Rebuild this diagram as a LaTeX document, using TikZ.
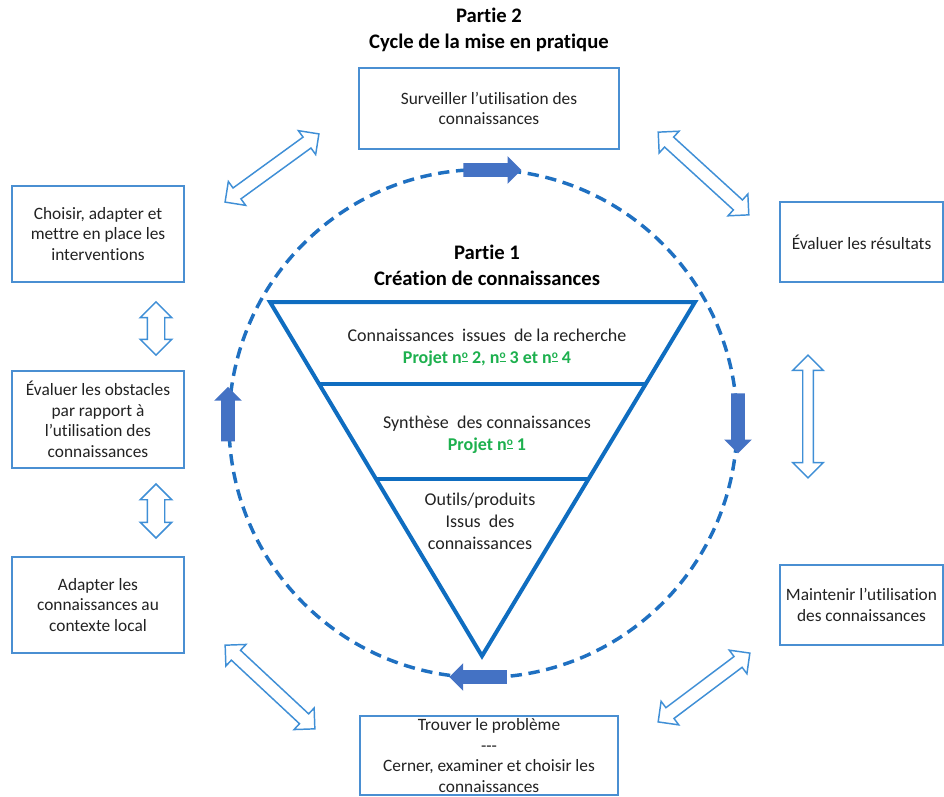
\documentclass[tikz,border=0pt]{standalone}
\usepackage{fontspec}
\setmainfont{Carlito}[Ligatures={NoCommon}]
\usetikzlibrary{shapes.arrows}
\definecolor{boxc}{HTML}{4A8FD2}
\definecolor{tric}{HTML}{0F6DC0}
\definecolor{circc}{HTML}{1F70C1}
\definecolor{fillc}{HTML}{4472C4}
\definecolor{holc}{HTML}{3F8FD6}
\definecolor{grn}{HTML}{1DB04E}
\definecolor{txt}{HTML}{222222}
\newcommand\nro{n\raisebox{.55ex}{\fontsize{8.5}{8.5}\selectfont\underline{o}}}
\begin{document}
\begin{tikzpicture}[x=0.75pt,y=-0.75pt,
  box/.style={draw=boxc, line width=1pt, fill=white, align=center, inner sep=0pt,
    text=txt, font=\fontsize{13}{15.4}\selectfont},
  title/.style={align=center, text=black, font=\fontsize{15.5}{19.5}\selectfont\bfseries},
  tritext/.style={align=center, text=txt, font=\fontsize{13.5}{16.5}\selectfont},
  hol/.style={shape=double arrow, draw=holc, line width=1.1pt, fill=white,
    inner xsep=0pt, inner ysep=4.5pt, double arrow head extend=6pt},
  holv/.style={hol, inner ysep=3.4pt, double arrow head extend=7.5pt},
  hols/.style={hol, inner ysep=6pt, double arrow head extend=5.25pt},
  full/.style={shape=single arrow, fill=fillc, draw=none, inner xsep=0pt, inner ysep=4.9pt,
    single arrow head extend=5.25pt},
  tri/.style={draw=tric, line width=3pt}
]
\useasboundingbox (0,0) rectangle (944,796);

% dashed cycle
\draw[circc, line width=2.6pt, dash pattern=on 8.5pt off 5pt] (483,423.5) circle[radius=254];

% filled direction arrows on the cycle
\node[full, minimum height=43.5pt] (fTop) at (489,170) {};
\node[full, minimum height=45pt, rotate=-90] (fRight) at (738,420) {};
\node[full, minimum height=43pt, rotate=180] (fBottom) at (481.5,677) {};
\node[full, minimum height=41pt, rotate=90] (fLeft) at (228,417.5) {};

% triangle
\draw[tri] (270,302) -- (695,302) -- (482,656) -- cycle;
\draw[tri] (319,384) -- (646,384);
\draw[tri] (376,479) -- (589,479);

% titles
\node[title] (p2) at (489,30) {Partie 2\\Cycle de la mise en pratique};
\node[title] (p1) at (487,265.5) {Partie 1\\Création de connaissances};

% triangle texts
\node[tritext] (k1) at (487,348) {Connaissances\ \ issues\ \ de la recherche\\{\color{grn}\bfseries Projet \nro\ 2, \nro\ 3 et \nro\ 4}};
\node[tritext] (k2) at (487,435) {Synthèse\ \ des connaissances\\{\color{grn}\bfseries Projet \nro\ 1}};
\node[tritext] (k3) at (480,521) {Outils/produits\\Issus\ \ des\\connaissances};

% boxes
\node[box, minimum width=195pt, minimum height=60.75pt] (bS) at (489,108.5) {Surveiller l’utilisation des\\connaissances};
\node[box, minimum width=122.25pt, minimum height=60pt] (bE) at (861.5,242) {Évaluer les résultats};
\node[box, minimum width=122.25pt, minimum height=60pt] (bM) at (861.5,605) {Maintenir l’utilisation\\des connaissances};
\node[box, minimum width=193.5pt, minimum height=59.25pt] (bT) at (489,755.5) {Trouver le problème\\{-}{-}{-}\\Cerner, examiner et choisir les\\connaissances};
\node[box, minimum width=129pt, minimum height=72pt] (bC) at (98,234) {Choisir, adapter et\\mettre en place les\\interventions};
\node[box, minimum width=129pt, minimum height=72.75pt] (bO) at (98,419.5) {Évaluer les obstacles\\par rapport à\\l’utilisation des\\connaissances};
\node[box, minimum width=129pt, minimum height=72pt] (bA) at (98,605) {Adapter les\\connaissances au\\contexte local};

% hollow double arrows
\node[hol, minimum height=87pt, rotate=36] (hTL) at (272,168) {};
\node[hol, minimum height=92pt, rotate=-42.4] (hTR) at (703.5,173.5) {};
\node[holv, minimum height=92pt, rotate=90] (hR) at (808,416.5) {};
\node[hol, minimum height=86pt, rotate=36.9] (hBR) at (704,687.5) {};
\node[hol, minimum height=92pt, rotate=-43] (hBL) at (270,687) {};
\node[hols, minimum height=40pt, rotate=90] (hL1) at (156,328.5) {};
\node[hols, minimum height=40.5pt, rotate=90] (hL2) at (156,511) {};
\end{tikzpicture}
\end{document}
